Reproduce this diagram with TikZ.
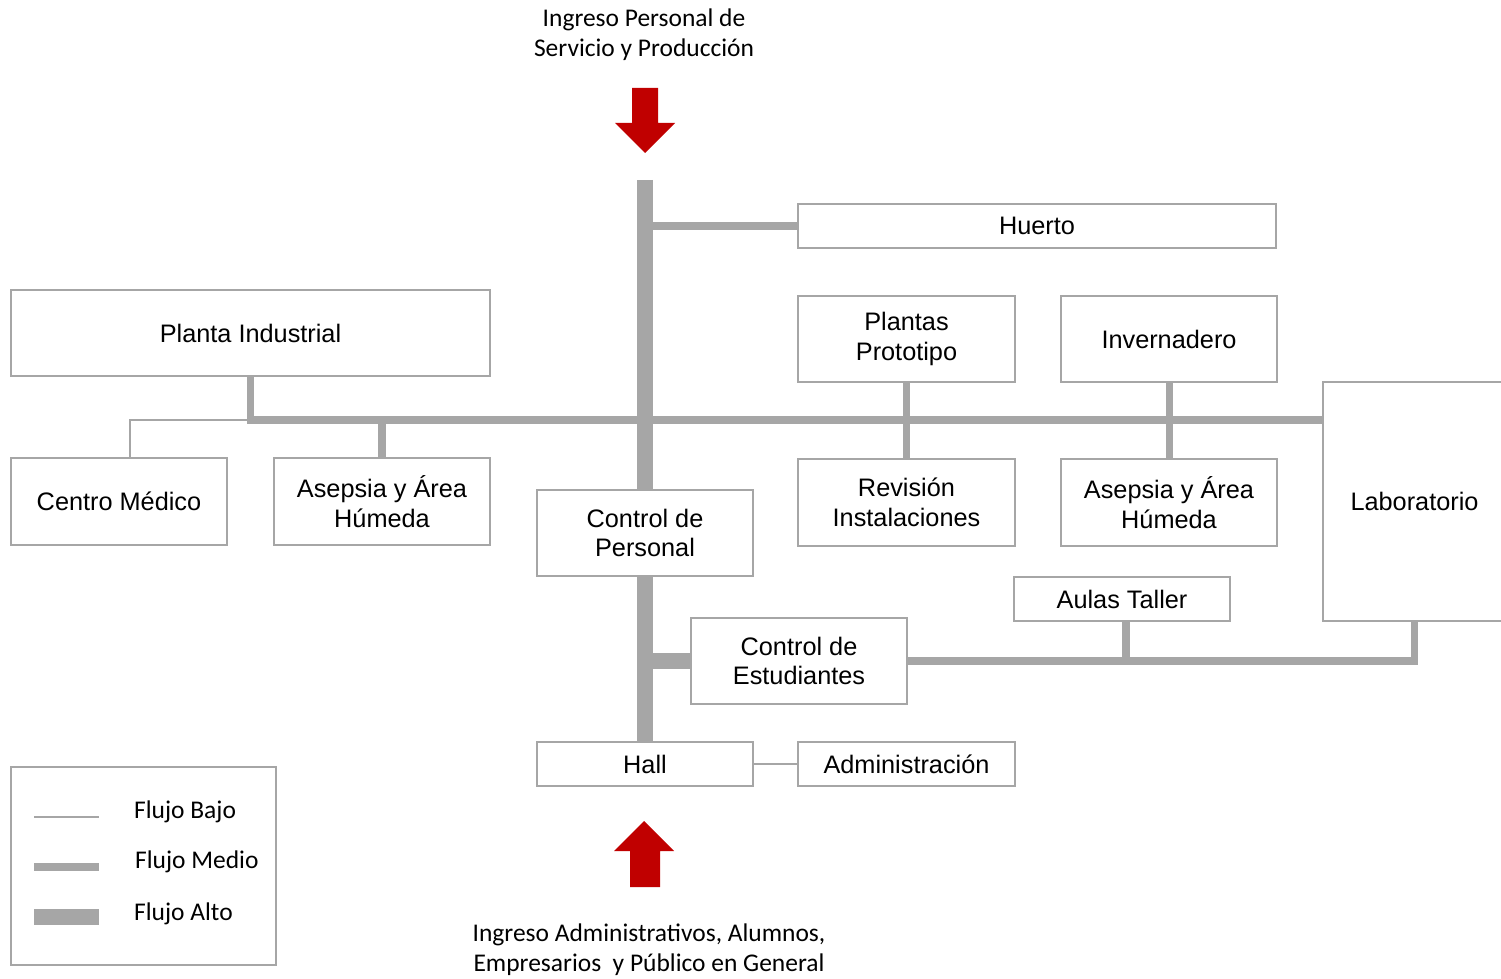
\documentclass[tikz,border=0pt]{standalone}
\usepackage{fontspec}
\setmainfont{Liberation Sans}
\newfontfamily\calibri{Carlito}
\definecolor{gris}{RGB}{166,166,166}
\definecolor{rojo}{RGB}{192,0,0}
\tikzset{
  caja/.style={draw=gris, line width=1.1pt, fill=white, align=center, inner sep=0pt,
    font=\fontsize{14.4}{17}\selectfont},
  bajo/.style={draw=gris, line width=0.85pt},
  medio/.style={draw=gris, line width=4pt},
  alto/.style={draw=gris, line width=8.8pt},
  flecha/.style={fill=rojo},
  nota/.style={align=center, font=\calibri\fontsize{14.5}{17}\selectfont},
}
\begin{document}
\begin{tikzpicture}[x=0.02cm, y=-0.02cm]
  \useasboundingbox (0,0) rectangle (1501,979);

  % Cajas
  \node[caja, minimum width=9.56cm, minimum height=0.88cm] (huerto) at (1037,226) {Huerto};
  \node[caja, minimum width=9.58cm, minimum height=1.72cm] (planta) at (250.5,333) {Planta Industrial};
  \node[caja, minimum width=4.34cm, minimum height=1.72cm] (proto) at (906.5,339) {Plantas\\Prototipo};
  \node[caja, minimum width=4.32cm, minimum height=1.72cm] (inver) at (1169,339) {Invernadero};
  \node[caja, minimum width=4.32cm, minimum height=1.74cm] (centro) at (119,501.5) {Centro Médico};
  \node[caja, minimum width=4.32cm, minimum height=1.74cm] (asepA) at (382,501.5) {Asepsia y Área\\Húmeda};
  \node[caja, minimum width=4.32cm, minimum height=1.72cm] (ctrlper) at (645,533) {Control de\\Personal};
  \node[caja, minimum width=4.34cm, minimum height=1.74cm] (revision) at (906.5,502.5) {Revisión\\Instalaciones};
  \node[caja, minimum width=4.32cm, minimum height=1.74cm] (asepB) at (1169,502.5) {Asepsia y Área\\Húmeda};
  \node[caja, minimum width=3.66cm, minimum height=4.78cm] (lab) at (1414.5,501.5) {Laboratorio};
  \node[caja, minimum width=4.32cm, minimum height=0.88cm] (aulas) at (1122,599) {Aulas Taller};
  \node[caja, minimum width=4.32cm, minimum height=1.72cm] (ctrlest) at (799,661) {Control de\\Estudiantes};
  \node[caja, minimum width=4.32cm, minimum height=0.88cm] (hall) at (645,764) {Hall};
  \node[caja, minimum width=4.34cm, minimum height=0.88cm] (admin) at (906.5,764) {Administración};

  % Puntos de union
  \coordinate (vtop) at (645,180);
  \coordinate (bus) at (645,420);
  \coordinate (codo) at (130,420);
  \coordinate (aulasbaja) at (1126,621);

  % Flujo alto
  \draw[alto] (vtop) -- (ctrlper.north);
  \draw[alto] (ctrlper.south) -- (hall.north);
  \draw[alto] (ctrlest.west -| hall.north) -- (ctrlest.west);

  % Flujo medio
  \draw[medio] (vtop |- huerto.west) -- (huerto.west);
  \draw[medio] (planta.south) |- (bus) -- (bus -| lab.west);
  \draw[medio] (asepA.north) -- (asepA.north |- bus);
  \draw[medio] (proto.south) -- (revision.north);
  \draw[medio] (inver.south) -- (asepB.north);
  \draw[medio] (ctrlest.east) -| (lab.south);
  \draw[medio] (aulasbaja) -- (aulasbaja |- ctrlest.east);

  % Flujo bajo
  \draw[bajo] (planta.south |- bus) -- (codo) -- (codo |- centro.north);
  \draw[bajo] (hall.east) -- (admin.west);

  % Ingresos
  \fill[flecha] (632,88) -- (658,88) -- (658,123) -- (675,123) -- (645,153)
    -- (615,123) -- (632,123) -- cycle;
  \fill[flecha] (630,887) -- (660,887) -- (660,851) -- (674,851) -- (644,821)
    -- (614,851) -- (630,851) -- cycle;
  \node[nota] (ingsup) at (644,35) {Ingreso Personal de\\Servicio y Producción};
  \node[nota] (inginf) at (649,950) {Ingreso Administrativos, Alumnos,\\Empresarios\ \ y Público en General};

  % Leyenda
  \node[caja, minimum width=5.3cm, minimum height=3.96cm] (leyenda) at (143.5,866) {};
  \coordinate (lb) at (34,817);
  \coordinate (lm) at (34,867);
  \coordinate (la) at (34,917);
  \draw[bajo] (lb) -- ++(65,0);
  \draw[medio] (lm) -- ++(65,0);
  \draw[alto] (la) -- ++(65,0);
  \node[nota, anchor=west] (tb) at (128,812) {Flujo Bajo};
  \node[nota, anchor=west] (tm) at (129,862) {Flujo Medio};
  \node[nota, anchor=west] (ta) at (128,914) {Flujo Alto};
\end{tikzpicture}
\end{document}
